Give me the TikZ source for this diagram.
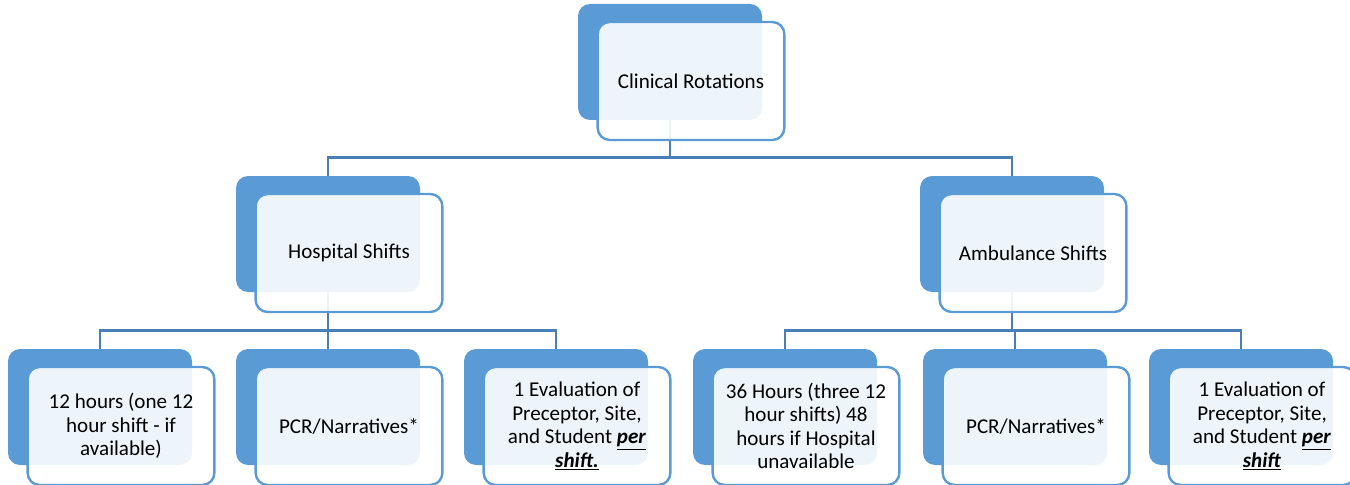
\documentclass[tikz,border=0pt]{standalone}
\usepackage{fontspec}
\setmainfont{Carlito}
\usetikzlibrary{calc}

\definecolor{smblue}{HTML}{5B9BD5}
\definecolor{smline}{HTML}{4A7EB7}

\newcommand{\perword}[1]{\underline{\textbf{\textit{#1}}}}

\begin{document}
\begin{tikzpicture}[x=0.75pt,y=-0.75pt,
	backbox/.style={fill=smblue, rounded corners=9pt, inner sep=0pt,
		minimum width=138pt, minimum height=87pt},
	frontbox/.style={draw=smblue, line width=1.8pt, fill=white, fill opacity=0.9,
		text opacity=1, rounded corners=9pt, inner sep=0pt, align=center,
		minimum width=140pt, minimum height=88.5pt,
		font=\fontsize{15.8}{17.6}\selectfont},
	link/.style={draw=smline, line width=1.9pt}]

	\clip (0,0) rectangle (1350,485);

	% back boxes
	\node[backbox] (rootback) at (670,62) {};
	\node[backbox] (hospback) at (328,234) {};
	\node[backbox] (ambback)  at (1012,234) {};

	\node[backbox] (hoursback) at (100,407) {};
	\node[backbox] (pcrback)   at (328,407) {};
	\node[backbox] (evalback)  at (556,407) {};
	\node[backbox] (ahoursback) at (785,407) {};
	\node[backbox] (apcrback)  at (1015,407) {};
	\node[backbox] (aevalback) at (1241,407) {};

	% connectors
	\coordinate (rootbar) at ($(rootback.south)+(0,37)$);
	\draw[link] (rootback.south) -- (rootbar) -| (hospback.north);
	\draw[link] (rootbar) -| (ambback.north);

	\coordinate (hospbar) at ($(hospback.south)+(0,38)$);
	\draw[link] (hospback.south) -- (hospbar) -| (hoursback.north);
	\draw[link] (hospbar) -- (pcrback.north);
	\draw[link] (hospbar) -| (evalback.north);

	\coordinate (ambbar) at ($(ambback.south)+(0,38)$);
	\draw[link] (ambback.south) -- (ambbar) -| (ahoursback.north);
	\draw[link] (ambbar) -| (apcrback.north);
	\draw[link] (ambbar) -| (aevalback.north);

	% front boxes
	\node[frontbox] (root) at ($(rootback)+(21,19)$) {Clinical Rotations};
	\node[frontbox] (hosp) at ($(hospback)+(21,19)$) {Hospital Shifts};
	\node[frontbox] (amb)  at ($(ambback)+(21,19)$) {Ambulance Shifts};

	\node[frontbox] (hours) at ($(hoursback)+(21,19)$)
		{12 hours (one 12\\hour shift - if\\available)};
	\node[frontbox] (pcr) at ($(pcrback)+(21,19)$) {PCR/Narratives*};
	\node[frontbox] (eval) at ($(evalback)+(21,19)$)
		{1 Evaluation of\\Preceptor, Site,\\and Student \perword{per}\\\perword{shift.}};
	\node[frontbox] (ahours) at ($(ahoursback)+(21,19)$)
		{36 Hours (three 12\\hour shifts) 48\\hours if Hospital\\unavailable};
	\node[frontbox] (apcr) at ($(apcrback)+(21,19)$) {PCR/Narratives*};
	\node[frontbox] (aeval) at ($(aevalback)+(21,19)$)
		{1 Evaluation of\\Preceptor, Site,\\and Student \perword{per}\\\perword{shift}};

\end{tikzpicture}
\end{document}
